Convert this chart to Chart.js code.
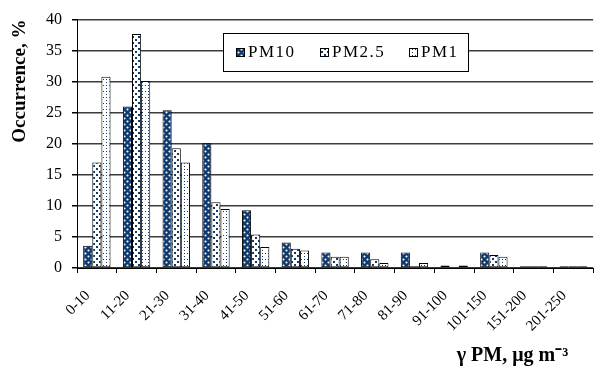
<!DOCTYPE html>
<html><head><meta charset="utf-8">
<script src="https://cdn.jsdelivr.net/npm/chart.js@4/dist/chart.umd.min.js"></script>
<style>html,body{margin:0;padding:0;background:#fff;overflow:hidden;} #wrap{width:600px;height:370px;}</style>
</head><body><div id="wrap"><canvas id="c" width="600" height="370"></canvas></div>
<script>
// ---- data ----
const categories = ['0-10','11-20','21-30','31-40','41-50','51-60','61-70','71-80','81-90','91-100','101-150','151-200','201-250'];
const seriesNames = ['PM10','PM2.5','PM1'];
const pm10 = [3.6, 26.0, 25.4, 20.1, 9.3, 4.1, 2.5, 2.5, 2.5, 0.4, 2.5, 0.3, 0.3];
const pm25 = [17.0, 37.7, 19.3, 10.6, 5.4, 3.1, 1.8, 1.4, 0.3, 0.0, 2.1, 0.3, 0.3];
const pm1  = [30.8, 30.1, 17.0, 9.5, 3.4, 2.8, 1.8, 0.8, 0.8, 0.4, 1.8, 0.3, 0.3];
const yTicks = [0, 5, 10, 15, 20, 25, 30, 35, 40];
const xTitle = 'γ PM, μg m⁻³';
const yTitle = 'Occurrence, %';

// ---- styles ----
const NAVY = '#0f3a6e';
const SERIF = '"Liberation Serif", "Times New Roman", serif';
Chart.defaults.font.family = SERIF;
Chart.defaults.color = '#000';

function makePattern(kind) {
  const t = document.createElement('canvas');
  t.width = 6; t.height = 6;
  const g = t.getContext('2d');
  const dot = (x, y, r) => { g.beginPath(); g.arc(x, y, r, 0, Math.PI * 2); g.fill(); };
  if (kind === 0) {
    g.fillStyle = NAVY; g.fillRect(0, 0, 6, 6);
    g.fillStyle = '#fff'; dot(1.5, 1.5, 1.05); dot(4.5, 4.5, 1.05);
  } else if (kind === 1) {
    g.fillStyle = '#fff'; g.fillRect(0, 0, 6, 6);
    g.fillStyle = NAVY; g.fillRect(0, 0, 2, 2); g.fillRect(3, 3, 2, 2);
  } else {
    g.fillStyle = '#fff'; g.fillRect(0, 0, 6, 6);
    g.fillStyle = NAVY; g.fillRect(1, 1, 1, 1); g.fillRect(4, 4, 1, 1); g.fillRect(4, 1, 1, 1);
  }
  return g.createPattern(t, 'repeat');
}
const fills = [makePattern(0), makePattern(1), makePattern(2)];
const seriesData = [pm10, pm25, pm1];

const boxLegend = {
  id: 'boxLegend',
  afterDraw(chart) {
    const ctx = chart.ctx, ca = chart.chartArea;
    ctx.save();
    ctx.font = '17px ' + SERIF;
    try { ctx.letterSpacing = '1.5px'; } catch (e) {}
    const items = chart.data.datasets.map(d => ({ label: d.label, fill: d.backgroundColor, w: ctx.measureText(d.label).width }));
    const padL = 13, padR = 10, sw = 9, gap = 3, between = 24, h = 38;
    let total = padL + padR;
    items.forEach((it, i) => { total += sw + gap + it.w + (i ? between : 0); });
    const x0 = Math.round(ca.left + 146), y0 = Math.round(ca.top + 13);
    ctx.fillStyle = '#fff';
    ctx.fillRect(x0, y0, total, h);
    ctx.strokeStyle = '#000'; ctx.lineWidth = 1;
    ctx.strokeRect(x0 + 0.5, y0 + 0.5, Math.round(total), h);
    let x = x0 + padL;
    const cy = y0 + h / 2;
    items.forEach(it => {
      const sx = Math.round(x), sy = Math.round(cy - 4);
      ctx.fillStyle = it.fill; ctx.fillRect(sx, sy, sw, sw);
      ctx.strokeStyle = '#000'; ctx.strokeRect(sx + 0.5, sy + 0.5, sw - 1, sw - 1);
      ctx.fillStyle = '#000'; ctx.textBaseline = 'middle'; ctx.textAlign = 'left';
      ctx.fillText(it.label, sx + sw + gap, cy + 1);
      x += sw + gap + it.w + between;
    });
    ctx.restore();
  }
};

new Chart(document.getElementById('c'), {
  type: 'bar',
  data: {
    labels: categories,
    datasets: seriesNames.map((name, i) => ({
      label: name, data: seriesData[i], backgroundColor: fills[i],
      borderColor: '#000', borderWidth: 1, borderSkipped: false
    }))
  },
  options: {
    responsive: false, animation: false,
    layout: { padding: { left: 4, top: 17, right: 0, bottom: 0 } },
    datasets: { bar: { categoryPercentage: 0.69, barPercentage: 1.0 } },
    plugins: { legend: { display: false }, tooltip: { enabled: false } },
    scales: {
      x: {
        offset: true,
        grid: { display: true, drawOnChartArea: false, drawTicks: true, tickLength: 5, tickColor: '#000', offset: true },
        border: { color: '#000', width: 1 },
        ticks: { autoSkip: false, maxRotation: 45, minRotation: 45, padding: 14, labelOffset: -9, color: '#000',
                 font: { family: SERIF, size: 15 } },
        title: { display: true, text: xTitle + '     ', align: 'end', color: '#000',
                 font: { family: SERIF, size: 20, weight: 'bold' }, padding: { top: 0, bottom: 2 } },
        afterFit(s) { s.height = 102; }
      },
      y: {
        min: yTicks[0], max: yTicks[yTicks.length - 1],
        afterBuildTicks(s) { s.ticks = yTicks.map(v => ({ value: v })); },
        ticks: { padding: 10, color: '#000', font: { family: SERIF, size: 16 } },
        grid: { color: '#3c3c3c', lineWidth: 1.5, tickLength: 5, tickColor: '#000' },
        border: { color: '#000', width: 1 },
        title: { display: true, text: yTitle, align: 'end', color: '#000',
                 font: { family: SERIF, size: 19, weight: 'bold' }, padding: { top: 5, bottom: 0 } },
        afterFit(s) { s.width = 73; }
      }
    }
  },
  plugins: [boxLegend]
});
</script>
</body></html>
